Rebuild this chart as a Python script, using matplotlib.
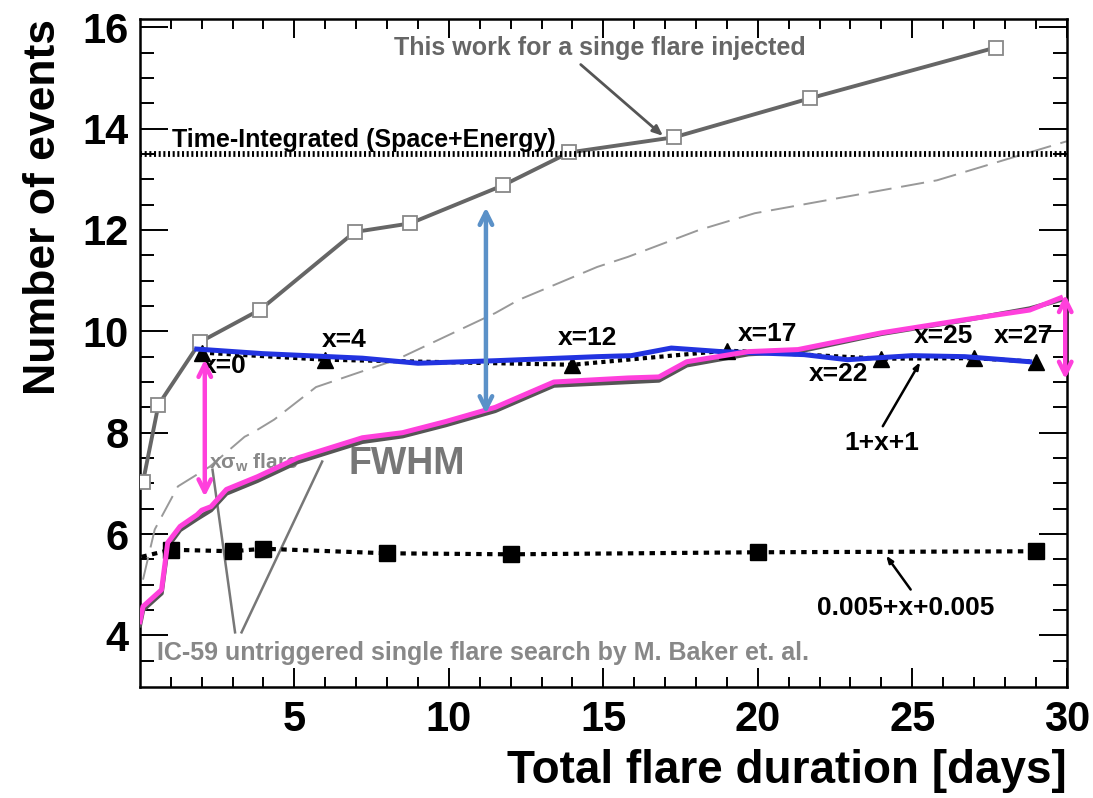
import matplotlib
matplotlib.use("Agg")
import matplotlib.pyplot as plt
import numpy as np

plt.rcParams['font.family'] = ['Liberation Sans', 'DejaVu Sans']
plt.rcParams['font.weight'] = 'bold'

# "This work for a single flare injected" (open squares)
this_work_x = [0.1, 0.6, 1.95, 3.9, 6.95, 8.75, 11.75, 13.9, 17.3, 21.7, 27.7]
this_work_y = [7.03, 8.55, 9.79, 10.43, 11.96, 12.13, 12.88, 13.53, 13.83, 14.6, 15.6]

# time integrated reference
time_int_y = 13.5

# thin dashed gray curve
dashed_x = [0.1, 0.48, 1.23, 2.26, 3.39, 3.65, 4.35, 5.7, 8.3, 11.5, 12.26, 14.8, 15.8, 18.1, 19.9, 25.8, 28.3, 30.0]
dashed_y = [5.1, 6.09, 6.94, 7.33, 7.92, 8.0, 8.26, 8.9, 9.44, 10.36, 10.62, 11.27, 11.47, 12.0, 12.33, 12.98, 13.44, 13.75]

# IC-59 curve (gray) and the pink overlay
ic59_x = [0.0, 0.1, 0.7, 0.9, 1.3, 1.85, 2.3, 2.8, 3.8, 5.1, 7.2, 8.5, 9.9, 11.5, 12.6, 13.4, 15.8, 16.8, 17.7, 19.7, 21.3, 24.0, 26.7, 28.8, 29.8]
ic59_y = [4.2, 4.5, 4.83, 5.75, 6.08, 6.3, 6.47, 6.8, 7.05, 7.42, 7.82, 7.93, 8.15, 8.43, 8.72, 8.93, 9.0, 9.03, 9.33, 9.55, 9.6, 9.95, 10.22, 10.45, 10.62]
pink_x = [0.0, 0.1, 0.7, 0.9, 1.3, 1.85, 2.0, 2.3, 2.8, 3.8, 5.1, 7.2, 8.5, 9.9, 11.5, 12.6, 13.4, 15.8, 16.8, 17.7, 19.7, 21.3, 24.0, 26.7, 28.8, 29.8]
pink_y = [4.27, 4.57, 4.9, 5.83, 6.15, 6.38, 6.47, 6.54, 6.88, 7.13, 7.5, 7.9, 8.0, 8.22, 8.5, 8.79, 9.0, 9.08, 9.1, 9.4, 9.6, 9.64, 9.97, 10.23, 10.42, 10.66]

# 1+x+1 (triangles) and blue overlay
tri_x = [2, 6, 14, 19, 24, 27, 29]
tri_y = [9.58, 9.44, 9.34, 9.62, 9.46, 9.47, 9.4]
tri_labels = ['x=0', 'x=4', 'x=12', 'x=17', 'x=22', 'x=25', 'x=27']
blue_x = [1.84, 3.97, 7.2, 9.0, 11.5, 14.8, 15.9, 17.2, 18.8, 21.5, 22.9, 25.0, 26.7, 28.8]
blue_y = [9.65, 9.56, 9.47, 9.37, 9.42, 9.5, 9.52, 9.67, 9.6, 9.54, 9.44, 9.52, 9.5, 9.4]

# 0.005+x+0.005 (filled squares)
sq_x = [0.05, 1, 3, 4, 8, 12, 20, 29]
sq_y = [5.55, 5.69, 5.66, 5.71, 5.62, 5.6, 5.64, 5.66]

# highlight arrows (x, y_from, y_to)
blue_arrow = (11.2, 8.32, 12.5)
pink_arrows = [(2.1, 6.68, 9.5), (29.95, 9.0, 10.78)]

fig = plt.figure(figsize=(10.93, 7.98), dpi=100)
ax = fig.add_axes([0.128, 0.139, 0.848, 0.837])

ax.plot(this_work_x, this_work_y, color='#666666', lw=2.8, marker='s', ms=10.5,
        mfc='white', mec='#888888', mew=1.3, zorder=3)
ax.axhline(time_int_y, color='black', lw=4.2, ls=(0, (0.35, 0.45)), zorder=3)
ax.plot(dashed_x, dashed_y, color='#999999', lw=1.4, ls=(0, (12, 5)), zorder=2)
ax.plot(ic59_x, ic59_y, color='#555555', lw=3.2, zorder=3)
ax.plot(tri_x, tri_y, color='black', lw=3, ls=(0, (1, 1)), marker='^', ms=11, zorder=4)
ax.plot(sq_x, sq_y, color='black', lw=3, ls=(0, (1.3, 1.3)), zorder=4)
ax.plot(sq_x[1:], sq_y[1:], ls='none', marker='s', ms=11, color='black', zorder=4)
ax.plot(blue_x, blue_y, color='#2233e0', lw=3.6, zorder=5)
ax.plot(pink_x, pink_y, color='#ff40dc', lw=3.6, zorder=6)

# annotations
ax.text(14.9, 15.59, 'This work for a singe flare injected', color='#666666',
        fontsize=18, ha='center', va='center')
ax.annotate('', xy=(17.0, 13.82), xytext=(14.2, 15.3),
            arrowprops=dict(arrowstyle='-|>,head_length=0.6,head_width=0.25',
                            color='#555555', lw=2))
ax.text(1.03, 13.77, 'Time-Integrated (Space+Energy)', color='black', fontsize=18,
        ha='left', va='center', zorder=7)

label_pos = [(2.0, 9.31), (6.6, 9.83), (14.5, 9.86), (20.3, 9.95), (22.6, 9.15), (26.0, 9.9), (28.6, 9.9)]
for lab, (lx, ly) in zip(tri_labels, label_pos):
    ax.text(lx, ly, lab, fontsize=19, ha='left' if lab == 'x=0' else 'center',
            va='center', zorder=7)

ax.text(24.0, 7.8, '1+x+1', fontsize=19, ha='center', va='center')
ax.annotate('', xy=(25.3, 9.44), xytext=(24.0, 8.08),
            arrowprops=dict(arrowstyle='-|>,head_length=0.4,head_width=0.15', color='black', lw=1.8))
ax.text(24.8, 4.55, '0.005+x+0.005', fontsize=19, ha='center', va='center')
ax.annotate('', xy=(24.1, 5.62), xytext=(25.0, 4.86),
            arrowprops=dict(arrowstyle='-|>,head_length=0.4,head_width=0.15', color='black', lw=1.8))

ax.text(0.55, 3.65, 'IC-59 untriggered single flare search by M. Baker et. al.',
        color='#888888', fontsize=18, ha='left', va='center')
ax.plot([3.08, 2.35], [4.06, 7.27], color='#777777', lw=1.8, zorder=2)
ax.plot([3.29, 5.9], [4.06, 7.43], color='#777777', lw=1.8, zorder=2)
ax.text(2.25, 7.4, 'xσ$_{\\mathregular{w}}$ flare', color='#888888', fontsize=15,
        ha='left', va='center', zorder=2)
ax.text(6.75, 7.38, 'FWHM', color='#777777', fontsize=27, ha='left', va='center')

ax.annotate('', xy=(blue_arrow[0], blue_arrow[1]), xytext=(blue_arrow[0], blue_arrow[2]),
            arrowprops=dict(arrowstyle='<->,head_length=0.9,head_width=0.45',
                            color='#5b91c8', lw=3.2), zorder=8)
for px, y0, y1 in pink_arrows:
    ax.annotate('', xy=(px, y0), xytext=(px, y1),
                arrowprops=dict(arrowstyle='<->,head_length=0.9,head_width=0.45',
                                color='#ff40dc', lw=3.2), zorder=8)

ax.set_xlim(0, 30)
ax.set_ylim(2.98, 16.16)
ax.set_xticks([5, 10, 15, 20, 25, 30])
ax.set_xticks(np.arange(1, 30), minor=True)
ax.set_yticks([4, 6, 8, 10, 12, 14, 16])
ax.set_yticks(np.arange(3.5, 16.1, 0.5), minor=True)
ax.tick_params(direction='in', top=True, right=True, which='both', width=1.4, labelsize=30)
ax.tick_params(axis='y', which='major', length=20, pad=8)
ax.tick_params(axis='y', which='minor', length=10)
ax.tick_params(axis='x', which='major', length=14, pad=9)
ax.tick_params(axis='x', which='minor', length=7)
for lab in ax.get_xticklabels() + ax.get_yticklabels():
    lab.set_fontweight('bold')
for s in ax.spines.values():
    s.set_linewidth(1.8)

ax.set_xlabel('Total flare duration [days]', fontsize=33, fontweight='bold', loc='right', labelpad=7)
ax.set_ylabel('Number of events', fontsize=32, fontweight='bold', loc='top', labelpad=13)

fig.savefig('out.png', dpi=100)
